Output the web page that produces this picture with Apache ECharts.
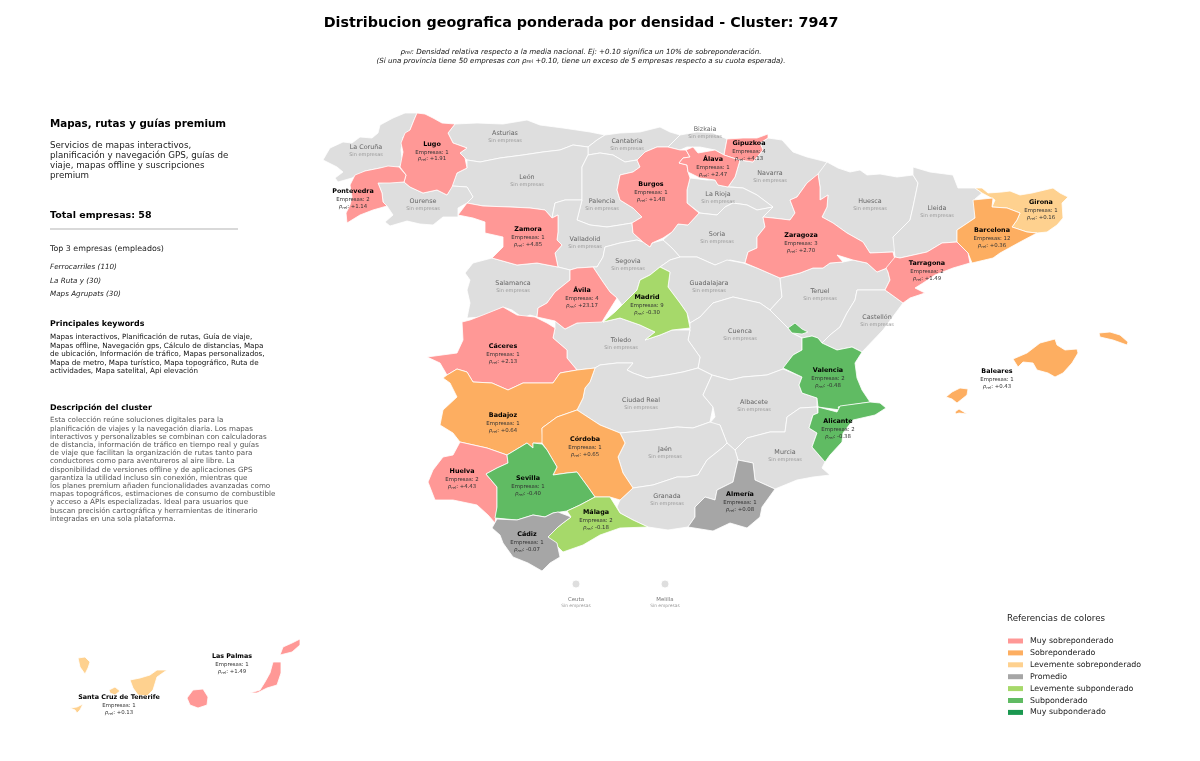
<!DOCTYPE html>
<html>
<head>
<meta charset="utf-8">
<title>Cluster 7947</title>
<script src="https://cdn.jsdelivr.net/npm/echarts@6/dist/echarts.min.js"></script>
<style>
  html, body { margin: 0; padding: 0; background: #fff; }
  #main { width: 1200px; height: 761px; }
</style>
</head>
<body>
<div id="main"></div>
<script>
const FONT = '"DejaVu Sans"';

// provincias con empresas
const provincias = ['Lugo', 'Pontevedra', 'Zamora', 'Ávila', 'Burgos', 'Gipuzkoa', 'Álava', 'Zaragoza', 'Madrid', 'Girona', 'Barcelona', 'Tarragona', 'Baleares', 'Cáceres', 'Badajoz', 'Córdoba', 'Huelva', 'Sevilla', 'Málaga', 'Cádiz', 'Almería', 'Valencia', 'Alicante', 'Las Palmas', 'Santa Cruz de Tenerife'];
const empresas = [1, 2, 1, 4, 1, 4, 1, 3, 9, 1, 12, 2, 1, 1, 1, 1, 2, 1, 2, 1, 1, 2, 2, 1, 1];
const rhoRel = [1.91, 1.14, 4.85, 23.17, 1.48, 4.13, 2.47, 2.70, -0.30, 0.16, 0.36, 1.49, 0.43, 2.13, 0.64, 0.65, 4.43, -0.40, -0.18, -0.07, 0.08, -0.48, -0.38, 1.49, 0.13];

// provincias sin empresas
const sinEmpresas = ['La Coruña', 'Asturias', 'Cantabria', 'Bizkaia', 'Navarra', 'León', 'La Rioja', 'Palencia', 'Ourense', 'Huesca', 'Lleida', 'Valladolid', 'Soria', 'Segovia', 'Guadalajara', 'Salamanca', 'Teruel', 'Castellón', 'Cuenca', 'Toledo', 'Ciudad Real', 'Albacete', 'Jaén', 'Murcia', 'Granada', 'Ceuta', 'Melilla'];

// leyenda
const categorias = ['Muy sobreponderado', 'Sobreponderado', 'Levemente sobreponderado', 'Promedio', 'Levemente subponderado', 'Subponderado', 'Muy subponderado'];
const coloresCategoria = ['#ff9896', '#fdae61', '#fed18f', '#a6a6a6', '#a6d96a', '#60bb63', '#1a9850'];

const tituloPanel = 'Mapas, rutas y guías premium';
const descripcion = ['Servicios de mapas interactivos,', 'planificación y navegación GPS, guías de', 'viaje, mapas offline y suscripciones', 'premium'];
const topEmpresas = ['Ferrocarriles (110)', 'La Ruta y (30)', 'Maps Agrupats (30)'];
const keywords = ['Mapas interactivos, Planificación de rutas, Guía de viaje,', 'Mapas offline, Navegación gps, Cálculo de distancias, Mapa', 'de ubicación, Información de tráfico, Mapas personalizados,', 'Mapa de metro, Mapa turístico, Mapa topográfico, Ruta de', 'actividades, Mapa satelital, Api elevación'];
const descCluster = ['Esta colección reúne soluciones digitales para la', 'planificación de viajes y la navegación diaria. Los mapas', 'interactivos y personalizables se combinan con calculadoras', 'de distancia, información de tráfico en tiempo real y guías', 'de viaje que facilitan la organización de rutas tanto para', 'conductores como para aventureros al aire libre. La', 'disponibilidad de versiones offline y de aplicaciones GPS', 'garantiza la utilidad incluso sin conexión, mientras que', 'los planes premium añaden funcionalidades avanzadas como', 'mapas topográficos, estimaciones de consumo de combustible', 'y acceso a APIs especializadas. Ideal para usuarios que', 'buscan precisión cartográfica y herramientas de itinerario', 'integradas en una sola plataforma.'];

// contornos de las provincias, trazados sobre la imagen
const contornos = {
  'La Coruña': ['323,160 327,153 330,148 343,142 352,143 360,137 372,138 378,133 380,125 393,118 405,113 417,113 414,120 410,130 403,137 401,150 403,165 398,167 380,168 365,171 352,178 338,182 335,178 343,172 337,167'],
  'Asturias': ['455,124 477,123 503,124 527,120 540,125 563,128 590,132 605,135 597,140 588,147 573,145 560,150 543,152 523,155 500,158 480,162 467,160 465,158 460,153 467,148 453,143 448,133'],
  'Cantabria': ['605,135 620,133 640,132 660,127 670,132 680,135 668,147 657,147 645,152 637,160 625,162 613,155 600,153 588,155 588,147 597,140'],
  'Bizkaia': ['680,135 697,132 713,133 727,139 724,155 715,150 700,147 687,147 680,150 668,147'],
  'Navarra': ['768,138 782,140 793,152 807,157 827,162 820,173 807,183 797,197 790,200 795,213 790,220 773,218 763,217 773,207 757,195 743,188 732,187 728,187 735,177 740,160 753,162 763,150 760,143'],
  'León': ['467,160 480,162 500,158 523,155 543,152 560,150 573,145 588,147 588,155 582,167 582,200 565,200 555,203 552,218 545,210 530,208 510,207 483,206 467,203 473,197 467,187 452,186 457,173 467,168'],
  'La Rioja': ['690,178 707,180 715,180 718,185 728,187 743,188 757,195 773,207 757,210 747,205 733,203 725,207 717,215 700,213 687,203 687,190'],
  'Palencia': ['588,155 600,153 613,155 625,162 637,160 640,167 633,172 620,175 617,190 620,200 633,208 642,217 632,223 620,225 607,227 590,225 577,220 582,200 582,167'],
  'Ourense': ['378,183 390,182 404,182 410,187 423,193 437,190 447,195 452,186 467,187 473,197 467,203 458,208 458,217 443,217 433,225 420,224 407,221 390,226 385,222 393,215 387,206 383,202 382,193'],
  'Huesca': ['827,162 838,168 850,172 860,170 867,175 880,174 897,177 913,175 918,183 913,207 910,220 893,237 897,252 893,252 870,253 863,242 847,233 833,223 822,217 827,207 828,195 820,200 820,187 818,174'],
  'Lleida': ['913,175 913,167 930,172 953,175 958,188 975,188 982,193 975,199 975,218 957,230 957,242 942,243 927,252 900,258 895,257 893,237 910,220 913,207 918,183'],
  'Valladolid': ['552,218 555,203 565,200 582,200 577,220 590,225 607,227 620,225 632,223 633,233 643,242 637,240 620,243 605,247 603,257 597,267 593,267 577,268 570,270 558,267 555,253 562,245 557,240 558,232 558,215'],
  'Soria': ['699,213 717,215 725,207 733,203 747,205 757,210 773,207 763,217 765,227 757,237 757,248 748,252 745,263 730,260 715,265 697,257 680,257 672,248 663,240 672,232 678,224 688,225'],
  'Segovia': ['643,242 650,247 652,243 663,240 672,248 680,257 670,260 660,267 650,275 640,280 637,290 622,305 617,298 610,292 603,282 593,267 597,267 603,257 605,247 620,243 637,240'],
  'Guadalajara': ['660,267 670,260 680,257 697,257 715,265 727,260 743,263 757,268 780,278 782,297 770,310 760,303 733,297 713,303 700,317 690,323 687,313 680,303 668,287 670,272'],
  'Salamanca': ['465,273 473,263 492,258 517,265 537,263 558,267 570,270 570,280 555,292 547,303 538,308 537,317 530,315 523,318 512,310 503,307 483,317 467,318 470,303 467,290 470,280'],
  'Teruel': ['780,278 800,273 813,268 823,268 830,263 843,262 853,260 867,263 877,272 887,268 888,272 890,280 885,290 857,290 855,300 847,313 840,327 830,335 822,343 818,338 812,336 802,338 792,333 788,328 780,320 770,310 782,297'],
  'Castellón': ['885,290 892,295 903,303 883,330 862,352 852,347 837,350 822,343 830,335 840,327 847,313 855,300 857,290'],
  'Cuenca': ['690,330 690,323 700,317 713,303 733,297 760,303 770,310 780,320 788,328 792,333 802,338 802,350 793,355 783,369 767,375 743,377 730,380 712,375 698,368 700,357 688,340'],
  'Toledo': ['555,321 565,329 577,323 602,320 603,322 620,318 640,325 655,332 645,340 660,335 672,330 690,330 688,340 700,357 698,368 683,372 667,375 647,378 633,373 627,370 633,363 617,363 600,365 595,368 577,370 567,358 567,350 553,338 555,328'],
  'Ciudad Real': ['595,368 600,365 617,363 633,363 627,370 633,373 647,378 667,375 683,372 698,368 712,375 703,395 713,407 710,422 693,428 677,427 653,430 620,433 600,425 577,410 583,398 585,388 590,382'],
  'Albacete': ['712,375 730,380 743,377 767,375 783,369 802,377 799,385 802,393 817,398 817,407 800,408 787,417 785,432 770,432 747,438 735,450 727,443 720,425 708,425 715,417 713,407 703,395'],
  'Jaén': ['620,433 653,430 677,427 693,428 710,422 720,425 727,443 722,448 707,460 698,475 687,477 677,477 653,485 633,488 623,473 618,457 625,443'],
  'Murcia': ['785,432 787,417 800,408 817,407 818,413 813,415 809,428 817,433 812,447 825,462 822,468 830,475 813,477 797,480 775,489 755,480 753,463 738,460 735,450 747,438 770,432'],
  'Granada': ['633,488 653,485 677,477 687,477 698,475 707,460 722,448 727,443 735,450 738,460 735,473 733,482 717,490 715,500 705,497 695,507 695,517 688,527 668,530 648,527 633,520 620,513 617,507 620,500'],
  'Ceuta': ['576,580 579,581 580,584 579,587 576,588 573,587 572,584 573,581'],
  'Melilla': ['665,580 668,581 669,584 668,587 665,588 662,587 661,584 662,581'],
  'Lugo': ['417,113 425,114 433,118 442,123 455,124 448,133 453,143 467,148 460,153 465,158 467,168 457,173 452,187 447,195 437,190 423,193 410,187 404,182 406,175 400,167 403,152 401,143 405,133 410,130 414,120'],
  'Pontevedra': ['350,185 355,175 365,171 380,168 388,166 399,167 406,175 404,182 390,183 378,183 382,193 383,202 387,206 373,210 360,215 347,223 346,213 350,205 352,197'],
  'Zamora': ['458,215 467,203 483,206 510,207 530,208 545,210 552,218 558,215 558,232 557,240 562,245 555,253 558,267 537,263 517,265 492,258 503,247 503,237 485,233 485,222 473,218'],
  'Ávila': ['570,270 577,268 593,267 603,282 610,292 617,298 605,317 602,322 577,323 565,329 555,321 537,317 538,308 547,303 555,292 570,280'],
  'Burgos': ['637,160 645,152 657,147 668,147 680,150 686,150 690,157 683,158 679,163 687,165 688,172 690,178 687,190 687,203 699,213 688,225 678,224 672,232 663,238 652,243 650,247 643,242 633,233 632,223 642,217 633,208 620,200 617,190 620,175 633,172 640,167'],
  'Gipuzkoa': ['727,139 743,138 757,138 768,134 768,138 760,143 763,150 753,162 740,160 733,158 724,155'],
  'Álava': ['686,150 693,147 698,153 715,150 724,155 733,158 740,160 735,177 728,187 718,185 715,180 700,178 688,172 687,165 679,163 683,158 690,157'],
  'Zaragoza': ['763,217 773,218 790,220 795,213 790,200 797,197 807,183 818,174 820,187 820,200 828,195 827,207 822,217 833,223 847,233 863,242 870,253 893,252 895,260 887,268 877,272 867,263 853,260 837,255 843,262 830,263 823,268 813,268 800,273 780,278 757,268 745,263 748,252 757,248 757,237 765,227'],
  'Madrid': ['660,267 670,272 668,287 680,303 687,313 690,328 672,330 660,335 645,340 655,332 640,325 620,318 603,322 615,312 622,305 637,290 640,280 650,275'],
  'Girona': ['975,188 982,188 988,193 1002,192 1010,191 1020,195 1032,193 1053,188 1060,193 1068,197 1062,203 1063,218 1057,225 1047,232 1037,233 1027,232 1012,227 1017,220 1020,213 1007,208 992,207 995,200 982,193'],
  'Barcelona': ['973,200 993,198 992,207 1007,208 1020,213 1017,220 1012,227 1027,232 1037,233 1020,242 1000,253 993,258 972,263 968,253 957,242 957,230 975,218'],
  'Tarragona': ['895,257 900,258 927,252 942,243 957,242 968,253 970,263 953,268 935,275 923,283 915,288 925,293 910,298 903,303 892,295 885,290 890,280 888,272 886,268'],
  'Baleares': ['1013,359 1027,353 1040,343 1055,339 1057,345 1065,350 1077,349 1078,353 1072,363 1063,373 1055,377 1048,373 1037,370 1033,363 1023,362 1018,367', '1099,333 1110,332 1120,335 1128,342 1127,345 1113,340 1100,337', '946,397 952,392 960,388 968,389 967,395 957,403 952,399', '955,412 959,409 967,414 959,413 956,414'],
  'Cáceres': ['427,357 457,353 463,340 462,322 470,320 483,315 503,307 517,315 535,317 547,323 555,328 553,338 567,350 567,358 577,370 560,373 553,383 523,383 508,390 492,383 473,382 467,372 457,369 447,375 440,363'],
  'Badajoz': ['443,378 447,375 457,369 467,372 473,382 492,383 508,390 523,383 553,383 560,373 577,370 595,368 590,382 585,388 583,398 577,410 557,417 542,428 543,443 533,443 533,448 527,443 507,455 487,448 460,442 453,433 440,425 443,410 457,397 450,383'],
  'Córdoba': ['577,410 600,425 620,433 625,443 618,457 623,473 633,488 620,500 610,497 595,497 588,487 577,472 567,473 553,475 557,467 547,450 542,443 542,428 557,417'],
  'Huelva': ['460,442 487,448 507,455 508,463 497,468 486,474 497,487 497,507 495,523 488,515 477,505 453,500 435,500 428,482 433,470 443,457 453,455'],
  'Sevilla': ['486,474 497,468 508,463 507,455 527,443 533,448 533,443 542,444 547,450 557,467 553,475 567,473 577,472 588,487 595,497 580,505 567,511 553,513 545,517 533,515 517,520 495,518 497,507 497,487'],
  'Málaga': ['595,497 610,497 620,513 633,520 648,527 620,528 600,535 583,545 563,552 548,537 558,527 563,523 571,517 567,511 580,505'],
  'Cádiz': ['492,528 497,519 517,520 533,515 545,517 553,513 558,512 571,517 563,523 558,527 548,537 557,543 560,557 550,563 542,571 528,563 513,557 503,543 500,535'],
  'Almería': ['738,460 753,463 755,480 775,489 762,507 760,517 747,528 730,523 713,531 688,527 695,517 695,507 705,497 715,500 717,490 733,482 735,473'],
  'Valencia': ['802,338 812,336 818,338 822,343 837,350 852,347 862,352 855,363 857,378 862,390 870,402 838,407 840,410 818,407 817,398 802,393 799,385 802,377 783,368 793,355 802,350', '788,328 795,323 802,329 808,332 802,334 792,333'],
  'Alicante': ['818,407 837,412 840,406 870,402 880,403 886,408 875,415 853,420 843,433 842,442 830,455 825,462 812,447 817,433 809,428 813,415 818,413'],
  'Las Palmas': ['187,698 193,690 203,689 208,697 207,705 198,708 190,705', '250,693 260,690 265,682 270,673 273,662 281,662 281,673 277,685 267,688 257,693', '280,655 283,647 292,643 300,639 300,645 292,652'],
  'Santa Cruz de Tenerife': ['78,658 85,657 90,662 88,668 85,674 80,667', '109,690 115,687 120,691 115,695 110,693', '70,708 77,707 83,704 80,710 77,713 75,710', '130,680 140,678 150,675 157,670 167,670 157,677 153,690 147,696 138,695 133,688']
};

// donde va el nombre de cada provincia
const posEtiqueta = {
  'La Coruña': [366, 147], 'Asturias': [505, 133], 'Cantabria': [627, 141], 'Bizkaia': [705, 129], 'Navarra': [770, 173], 'León': [527, 177], 'La Rioja': [718, 194], 'Palencia': [602, 201], 'Ourense': [423, 201], 'Huesca': [870, 201], 'Lleida': [937, 208], 'Valladolid': [585, 239], 'Soria': [717, 234], 'Segovia': [628, 261], 'Guadalajara': [709, 283], 'Salamanca': [513, 283], 'Teruel': [820, 291], 'Castellón': [877, 317], 'Cuenca': [740, 331], 'Toledo': [621, 340], 'Ciudad Real': [641, 400], 'Albacete': [754, 402], 'Jaén': [665, 449], 'Murcia': [785, 452], 'Granada': [667, 496], 'Ceuta': [576, 599], 'Melilla': [665, 599],
  'Lugo': [432, 143.5], 'Gipuzkoa': [749, 143], 'Álava': [713, 159], 'Burgos': [651, 184], 'Pontevedra': [353, 191], 'Zamora': [528, 229], 'Girona': [1041, 202], 'Barcelona': [992, 230], 'Zaragoza': [801, 235], 'Tarragona': [927, 263], 'Ávila': [582, 290], 'Madrid': [647, 297], 'Cáceres': [503, 346], 'Valencia': [828, 370], 'Baleares': [997, 371], 'Badajoz': [503, 415], 'Alicante': [838, 421], 'Córdoba': [585, 439], 'Huelva': [462, 471], 'Sevilla': [528, 478], 'Almería': [740, 494], 'Málaga': [596, 512], 'Cádiz': [527, 534], 'Las Palmas': [232, 656], 'Santa Cruz de Tenerife': [119, 697]
};

const ALTO = 761;
function anillo(txt) {
  const pts = txt.split(' ').map(p => {
    const [x, y] = p.split(',').map(Number);
    return [x, ALTO - y];
  });
  pts.push(pts[0]);
  return [pts];
}

const features = Object.keys(contornos).map(name => {
  const [lx, ly] = posEtiqueta[name];
  const conDatos = provincias.includes(name);
  return {
    type: 'Feature',
    properties: { name, cp: [lx, ALTO - (ly + (conDatos ? 7.5 : 3.3))] },
    geometry: { type: 'MultiPolygon', coordinates: contornos[name].map(anillo) }
  };
});
echarts.registerMap('espana', { type: 'FeatureCollection', features });

const fmtRho = v => (v >= 0 ? '+' : '-') + Math.abs(v).toFixed(2);

const datos = provincias.map((name, i) => ({ name, value: rhoRel[i], empresas: empresas[i] }))
  .concat(sinEmpresas.map(name => ({ name, value: NaN })));

function texto(x, y, text, size, extra) {
  return {
    type: 'text', x, y, silent: true,
    style: Object.assign({ text, fontFamily: FONT, fontSize: size, fill: '#222', verticalAlign: 'middle' }, extra || {})
  };
}

const panel = [
  texto(50, 124, tituloPanel, 10.3, { fontWeight: 'bold', fill: '#000' }),
  texto(50, 216, 'Total empresas: 58', 9.5, { fontWeight: 'bold', fill: '#000' }),
  { type: 'line', silent: true, shape: { x1: 50, y1: 229, x2: 238, y2: 229 }, style: { stroke: '#cccccc', lineWidth: 1.5 } },
  texto(50, 249, 'Top 3 empresas (empleados)', 7.9),
  texto(50, 324, 'Principales keywords', 7.9, { fontWeight: 'bold', fill: '#000' }),
  texto(50, 408, 'Descripción del cluster', 7.9, { fontWeight: 'bold', fill: '#000' }),
  texto(1007, 619, 'Referencias de colores', 8.7, { fill: '#222' })
];
descripcion.forEach((t, i) => panel.push(texto(50, 146 + i * 10, t, 8.7)));
topEmpresas.forEach((t, i) => panel.push(texto(50, [267, 281, 294][i], t, 7.2, { fontStyle: 'italic' })));
keywords.forEach((t, i) => panel.push(texto(50, 337.5 + i * 8.45, t, 7.15, { fill: '#111' })));
descCluster.forEach((t, i) => panel.push(texto(50, 420.5 + i * 8.2, t, 7.15, { fill: '#555' })));

// nota con rho_rel bajo el titulo
const notaRich = {
  i: { fontFamily: FONT, fontSize: 7.1, fontStyle: 'italic', fill: '#111', color: '#111' },
  s: { fontFamily: FONT, fontSize: 5, fontStyle: 'italic', fill: '#111', color: '#111', verticalAlign: 'bottom' }
};
panel.push({
  type: 'text', silent: true, x: 581, y: 52,
  style: { text: '{i|ρ}{s|rel}{i|: Densidad relativa respecto a la media nacional. Ej: +0.10 significa un 10% de sobreponderación.}', rich: notaRich, align: 'center', verticalAlign: 'middle' }
});
panel.push({
  type: 'text', silent: true, x: 581, y: 61,
  style: { text: '{i|(Si una provincia tiene 50 empresas con ρ}{s|rel}{i| +0.10, tiene un exceso de 5 empresas respecto a su cuota esperada).}', rich: notaRich, align: 'center', verticalAlign: 'middle' }
});

const rotulo = p => {
  if (isNaN(p.value)) {
    return p.name === 'Ceuta' || p.name === 'Melilla'
      ? `{c|${p.name}}\n{d|Sin empresas}`
      : `{g|${p.name}}\n{h|Sin empresas}`;
  }
  return `{n|${p.name}}\n{e|Empresas: ${p.data.empresas}}\n{r|ρ}{b|rel}{v|: ${fmtRho(p.value)}}`;
};

const chart = echarts.init(document.getElementById('main'), null, { renderer: 'canvas' });
chart.setOption({
  backgroundColor: '#fff',
  animation: false,
  textStyle: { fontFamily: FONT },
  title: {
    text: 'Distribucion geografica ponderada por densidad - Cluster: 7947',
    left: 581, top: 23.5, textAlign: 'center', textVerticalAlign: 'middle', padding: 0,
    textStyle: { fontFamily: FONT, fontSize: 14.3, fontWeight: 'bold', color: '#000' }
  },
  visualMap: {
    type: 'piecewise',
    seriesIndex: 0,
    orient: 'vertical',
    left: 1008, top: 637,
    padding: 0,
    itemWidth: 15, itemHeight: 5, itemGap: 3.9, itemSymbol: 'rect',
    textGap: 7,
    align: 'left',
    selectedMode: false,
    hoverLink: false,
    textStyle: { fontFamily: FONT, fontSize: 7.9, color: '#222' },
    pieces: [
      { min: 1, label: categorias[0], color: coloresCategoria[0] },
      { min: 0.25, max: 1, label: categorias[1], color: coloresCategoria[1] },
      { min: 0.1, max: 0.25, label: categorias[2], color: coloresCategoria[2] },
      { min: -0.1, max: 0.1, label: categorias[3], color: coloresCategoria[3] },
      { min: -0.35, max: -0.1, label: categorias[4], color: coloresCategoria[4] },
      { min: -0.75, max: -0.35, label: categorias[5], color: coloresCategoria[5] },
      { max: -0.75, label: categorias[6], color: coloresCategoria[6] }
    ]
  },
  series: [{
    type: 'map',
    map: 'espana',
    roam: false,
    silent: true,
    selectedMode: false,
    showLegendSymbol: false,
    aspectScale: 1,
    boundingCoords: [[0, ALTO], [1200, 0]],
    left: 0, top: 0, width: 1200, height: ALTO,
    itemStyle: { areaColor: '#dedede', borderColor: '#fff', borderWidth: 0.8 },
    emphasis: { disabled: true },
    label: {
      show: true,
      formatter: rotulo,
      rich: {
        n: { fontFamily: FONT, fontSize: 6.4, fontWeight: 'bold', color: '#000', lineHeight: 9, align: 'center' },
        e: { fontFamily: FONT, fontSize: 5.4, color: '#333', lineHeight: 7, align: 'center' },
        r: { fontFamily: FONT, fontSize: 5.4, fontStyle: 'italic', color: '#333', lineHeight: 6.5 },
        b: { fontFamily: FONT, fontSize: 3.8, fontStyle: 'italic', color: '#333', lineHeight: 6.5, verticalAlign: 'bottom' },
        v: { fontFamily: FONT, fontSize: 5.4, color: '#333', lineHeight: 6.5 },
        g: { fontFamily: FONT, fontSize: 6.4, color: '#666', lineHeight: 8, align: 'center' },
        h: { fontFamily: FONT, fontSize: 5, color: '#999', lineHeight: 6, align: 'center' },
        c: { fontFamily: FONT, fontSize: 5.4, color: '#777', lineHeight: 7, align: 'center' },
        d: { fontFamily: FONT, fontSize: 4.4, color: '#999', lineHeight: 6, align: 'center' }
      }
    },
    data: datos
  }],
  graphic: { elements: panel }
});
</script>
</body>
</html>
